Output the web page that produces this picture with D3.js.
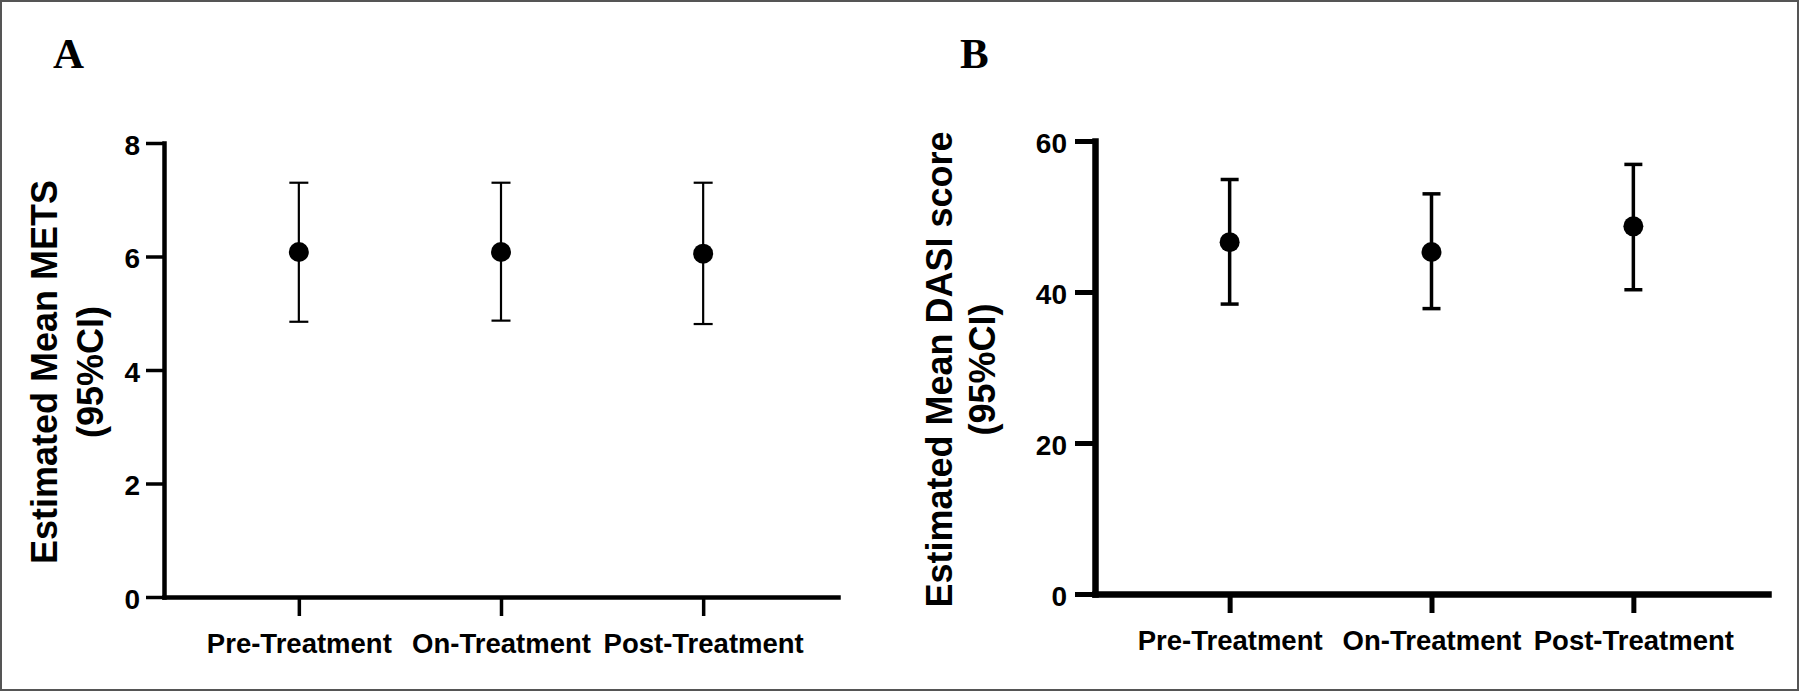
<!DOCTYPE html>
<html>
<head>
<meta charset="utf-8">
<script src="https://cdn.jsdelivr.net/npm/d3@7/dist/d3.min.js"></script>
<style>
  html, body { margin: 0; padding: 0; background: #fff; }
  svg { display: block; }
  text { font-family: "Liberation Sans", Arial, sans-serif; }
</style>
</head>
<body>
<script>
// ---------------- data ----------------
const categories = ["Pre-Treatment", "On-Treatment", "Post-Treatment"];

const metsMean  = [6.08, 6.08, 6.05];
const metsLower = [4.85, 4.87, 4.81];
const metsUpper = [7.30, 7.30, 7.30];
const metsTicks = [0, 2, 4, 6, 8];

const dasiMean  = [46.6, 45.3, 48.7];
const dasiLower = [38.4, 37.8, 40.3];
const dasiUpper = [54.9, 53.0, 56.9];
const dasiTicks = [0, 20, 40, 60];

const panelLetters = ["A", "B"];
const titleLine1 = ["Estimated Mean METS", "Estimated Mean DASI score"];
const titleLine2 = ["(95%CI)", "(95%CI)"];

// ---------------- drawing ----------------
const W = 1800, H = 692;
const svg = d3.select("body").append("svg").attr("width", W).attr("height", H);

svg.append("rect").attr("x", 1).attr("y", 1).attr("width", W - 3).attr("height", H - 3)
  .attr("fill", "#fff").attr("stroke", "#555").attr("stroke-width", 2);

function drawPanel(cfg) {
  const g = svg.append("g");
  const x = d3.scalePoint().domain(categories).range([cfg.x0, cfg.x1]).padding(0.667);
  const y = d3.scaleLinear().domain([0, cfg.ticks[cfg.ticks.length - 1]]).range([cfg.y0, cfg.y1]);

  // Y axis
  const ya = g.append("g").attr("transform", `translate(${cfg.x0},0)`)
    .call(d3.axisLeft(y).tickValues(cfg.ticks).tickSize(cfg.yTick).tickSizeOuter(0).tickPadding(cfg.yPad));
  ya.select(".domain").attr("stroke", "#000").attr("stroke-width", cfg.axisW).attr("stroke-linecap", "square");
  ya.selectAll(".tick line").attr("stroke", "#000").attr("stroke-width", cfg.tickW);
  ya.selectAll(".tick text").attr("font-size", 28).attr("font-weight", "bold").attr("fill", "#000")
    .attr("dy", "0.4em").style("font-family", '"Liberation Sans", Arial, sans-serif');

  // X axis
  const xa = g.append("g").attr("transform", `translate(0,${cfg.y0})`)
    .call(d3.axisBottom(x).tickSize(19).tickSizeOuter(0));
  xa.select(".domain").attr("stroke", "#000").attr("stroke-width", cfg.axisW).attr("stroke-linecap", "square");
  xa.selectAll(".tick line").attr("stroke", "#000").attr("stroke-width", cfg.tickW);
  xa.selectAll(".tick text").attr("font-size", 27.5).attr("font-weight", "bold").attr("fill", "#000")
    .attr("y", 56).attr("dy", 0).style("font-family", '"Liberation Sans", Arial, sans-serif');

  // Error bars
  const rows = categories.map((c, i) => ({ c, m: cfg.mean[i], lo: cfg.lower[i], hi: cfg.upper[i] }));
  const eb = g.append("g").attr("stroke", "#000").attr("stroke-width", cfg.barW);
  eb.selectAll("line.v").data(rows).join("line").attr("class", "v")
    .attr("x1", d => x(d.c)).attr("x2", d => x(d.c))
    .attr("y1", d => y(d.lo)).attr("y2", d => y(d.hi));
  eb.selectAll("line.top").data(rows).join("line").attr("class", "top")
    .attr("x1", d => x(d.c) - cfg.capW).attr("x2", d => x(d.c) + cfg.capW)
    .attr("y1", d => y(d.hi)).attr("y2", d => y(d.hi));
  eb.selectAll("line.bot").data(rows).join("line").attr("class", "bot")
    .attr("x1", d => x(d.c) - cfg.capW).attr("x2", d => x(d.c) + cfg.capW)
    .attr("y1", d => y(d.lo)).attr("y2", d => y(d.lo));
  g.selectAll("circle.pt").data(rows).join("circle").attr("class", "pt")
    .attr("cx", d => x(d.c)).attr("cy", d => y(d.m)).attr("r", 10).attr("fill", "#000");

  // Y title
  const cy = (cfg.y0 + cfg.y1) / 2 + 2;
  g.append("text").attr("transform", `translate(${cfg.t1x},${cy}) rotate(-90)`)
    .attr("text-anchor", "middle").attr("font-size", 36).attr("font-weight", "bold").text(cfg.title1);
  g.append("text").attr("transform", `translate(${cfg.t2x},${cy}) rotate(-90)`)
    .attr("text-anchor", "middle").attr("font-size", 36).attr("font-weight", "bold").text(cfg.title2);

  // Panel letter
  g.append("text").attr("x", cfg.lx).attr("y", 68).attr("font-size", 43).attr("font-weight", "bold")
    .style("font-family", '"Liberation Serif", "Times New Roman", serif').text(cfg.letter);
}

drawPanel({
  x0: 164, x1: 838, y0: 597, y1: 143, ticks: metsTicks,
  mean: metsMean, lower: metsLower, upper: metsUpper,
  yTick: 18, yPad: 6, axisW: 4.5, tickW: 3.5, barW: 2.2, capW: 9.5,
  t1x: 57, t2x: 103, title1: titleLine1[0], title2: titleLine2[0],
  lx: 53, letter: panelLetters[0]
});

drawPanel({
  x0: 1095, x1: 1768, y0: 594, y1: 141, ticks: dasiTicks,
  mean: dasiMean, lower: dasiLower, upper: dasiUpper,
  yTick: 20, yPad: 8, axisW: 6.5, tickW: 5, barW: 3.5, capW: 9,
  t1x: 952, t2x: 995, title1: titleLine1[1], title2: titleLine2[1],
  lx: 960, letter: panelLetters[1]
});
</script>
</body>
</html>
